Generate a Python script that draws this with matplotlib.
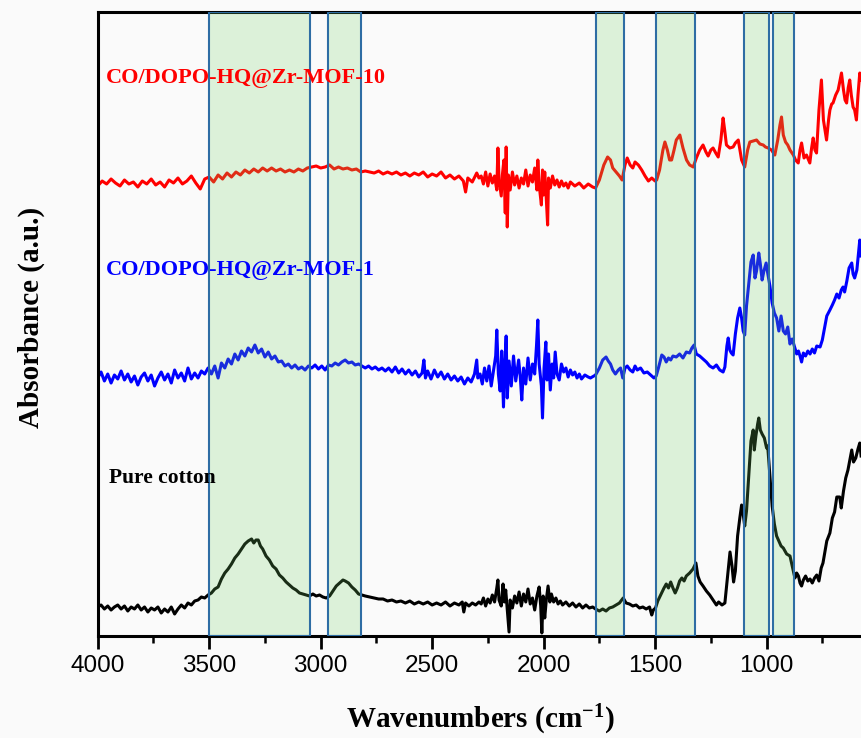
import matplotlib
matplotlib.use("Agg")
import matplotlib.pyplot as plt

# ---------------- data (wavenumber cm-1, absorbance a.u. offset) ----------------
red_pts = [
    (4000, 450), (3980, 455), (3960, 452), (3940, 457), (3920, 453), (3900, 450), (3880, 456), (3860, 452),
    (3840, 454), (3820, 449), (3800, 455), (3780, 452), (3760, 457), (3740, 451), (3720, 454), (3700, 449),
    (3680, 456), (3660, 453), (3640, 458), (3620, 452), (3600, 455), (3580, 460), (3560, 453), (3540, 447),
    (3520, 457), (3500, 459), (3480, 454), (3460, 461), (3440, 457), (3420, 463), (3400, 459), (3380, 464),
    (3360, 461), (3340, 466), (3320, 463), (3300, 467), (3280, 464), (3260, 468), (3240, 465), (3220, 468),
    (3200, 465), (3180, 467), (3160, 464), (3140, 466), (3120, 464), (3100, 467), (3080, 465), (3060, 468),
    (3040, 469), (3020, 470), (3000, 468), (2980, 469), (2960, 471), (2940, 467), (2920, 469), (2900, 467),
    (2880, 468), (2860, 466), (2840, 467), (2820, 464), (2800, 465), (2780, 464), (2760, 463), (2740, 465),
    (2720, 462), (2700, 464), (2680, 462), (2660, 464), (2640, 461), (2620, 463), (2600, 460), (2580, 463),
    (2560, 461), (2540, 464), (2520, 459), (2500, 462), (2480, 460), (2460, 464), (2440, 458), (2420, 461),
    (2400, 457), (2380, 460), (2360, 455), (2350, 444), (2340, 458), (2320, 454), (2300, 463), (2290, 458),
    (2280, 460), (2270, 452), (2260, 464), (2250, 450), (2240, 462), (2230, 453), (2220, 460), (2210, 446),
    (2205, 488), (2200, 456), (2190, 440), (2185, 461), (2178, 476), (2172, 423), (2168, 489), (2163, 409),
    (2158, 461), (2150, 446), (2140, 464), (2130, 451), (2120, 460), (2110, 448), (2100, 458), (2090, 452),
    (2080, 466), (2070, 450), (2060, 461), (2050, 454), (2040, 468), (2030, 446), (2026, 476), (2020, 451),
    (2010, 431), (2005, 466), (2000, 441), (1995, 464), (1990, 446), (1982, 411), (1978, 458), (1970, 448),
    (1960, 460), (1950, 451), (1940, 456), (1930, 449), (1920, 455), (1910, 450), (1900, 453), (1890, 448),
    (1880, 454), (1860, 450), (1840, 453), (1820, 448), (1800, 452), (1780, 449), (1767, 448),
    (1750, 456), (1730, 471), (1713, 479), (1700, 476), (1690, 468), (1675, 464), (1660, 460), (1648, 456),
    (1635, 471), (1625, 478), (1612, 471), (1600, 468), (1590, 474), (1575, 471), (1560, 466), (1545, 460),
    (1530, 455), (1515, 458), (1500, 455), (1493, 456), (1480, 466), (1465, 486), (1456, 494), (1445, 486),
    (1435, 476), (1426, 476), (1415, 486), (1405, 496), (1389, 501), (1375, 488), (1359, 476), (1345, 471),
    (1329, 469), (1315, 478), (1300, 486), (1285, 491), (1272, 484), (1262, 480), (1250, 486), (1240, 488),
    (1228, 483), (1217, 479), (1205, 496), (1195, 518), (1188, 506), (1180, 491), (1165, 488), (1150, 489),
    (1140, 493), (1127, 496), (1112, 476), (1098, 469), (1085, 486), (1075, 494), (1060, 495), (1045, 496),
    (1030, 492), (1015, 491), (1005, 489), (993, 488), (978, 486), (963, 481), (950, 496), (940, 511),
    (933, 519), (925, 501), (915, 494), (905, 491), (895, 486), (880, 481), (870, 476), (858, 473),
    (850, 486), (843, 493), (832, 478), (821, 481), (806, 473), (798, 488), (791, 498), (783, 486),
    (776, 483), (765, 526), (754, 556), (745, 516), (731, 496), (722, 516), (716, 526), (708, 532),
    (702, 533), (690, 541), (679, 546), (670, 556), (664, 563), (655, 546), (648, 536), (641, 533),
    (634, 548), (627, 556), (620, 541), (612, 529), (605, 526), (597, 516), (590, 541), (582, 563), (575, 556),
]

blue_pts = [
    (4000, 258), (3985, 264), (3970, 255), (3955, 262), (3940, 253), (3925, 261), (3910, 257), (3895, 265),
    (3880, 256), (3865, 262), (3850, 254), (3835, 260), (3820, 251), (3805, 259), (3790, 263), (3775, 255),
    (3760, 261), (3745, 250), (3730, 258), (3715, 264), (3700, 256), (3685, 262), (3670, 253), (3655, 266),
    (3640, 258), (3625, 263), (3610, 255), (3595, 268), (3580, 257), (3565, 263), (3550, 258), (3535, 265),
    (3520, 262), (3505, 268), (3490, 262), (3475, 270), (3460, 258), (3445, 273), (3430, 268), (3415, 277),
    (3400, 272), (3385, 282), (3370, 276), (3355, 285), (3340, 280), (3325, 288), (3310, 284), (3295, 291),
    (3280, 283), (3265, 287), (3250, 279), (3235, 284), (3220, 277), (3205, 280), (3190, 274), (3175, 275),
    (3160, 270), (3145, 272), (3130, 268), (3115, 271), (3100, 267), (3085, 269), (3070, 266), (3055, 270),
    (3040, 268), (3025, 271), (3010, 267), (2995, 270), (2980, 266), (2965, 271), (2950, 270), (2935, 273),
    (2920, 271), (2905, 274), (2890, 276), (2875, 273), (2860, 274), (2845, 271), (2830, 272), (2815, 270),
    (2800, 268), (2785, 270), (2770, 267), (2755, 269), (2740, 266), (2725, 268), (2710, 265), (2695, 268),
    (2680, 264), (2665, 269), (2650, 263), (2635, 267), (2620, 262), (2605, 266), (2590, 261), (2575, 265),
    (2560, 259), (2545, 263), (2537, 276), (2530, 258), (2520, 265), (2505, 257), (2490, 266), (2475, 259),
    (2460, 264), (2445, 257), (2430, 262), (2415, 256), (2400, 260), (2385, 255), (2370, 259), (2355, 252),
    (2340, 258), (2325, 254), (2310, 262), (2300, 276), (2295, 258), (2285, 262), (2275, 252), (2265, 268),
    (2255, 255), (2245, 270), (2235, 250), (2225, 265), (2215, 280), (2210, 306), (2203, 262), (2195, 245),
    (2188, 285), (2180, 229), (2175, 268), (2168, 300), (2163, 238), (2155, 275), (2145, 250), (2135, 280),
    (2125, 255), (2112, 276), (2105, 260), (2098, 236), (2090, 268), (2080, 252), (2070, 278), (2060, 256),
    (2050, 272), (2040, 262), (2032, 290), (2026, 316), (2020, 272), (2010, 250), (2005, 218), (1998, 268),
    (1990, 294), (1985, 256), (1978, 282), (1970, 246), (1962, 272), (1955, 258), (1948, 284), (1940, 262),
    (1930, 256), (1920, 272), (1910, 264), (1900, 268), (1890, 259), (1880, 266), (1870, 261), (1860, 264),
    (1850, 258), (1840, 262), (1830, 257), (1815, 261), (1800, 259), (1790, 258), (1767, 261), (1750, 268),
    (1735, 276), (1720, 279), (1710, 275), (1700, 272), (1690, 266), (1678, 262), (1665, 266), (1655, 268),
    (1645, 258), (1635, 268), (1625, 270), (1612, 266), (1600, 264), (1590, 270), (1580, 266), (1565, 268),
    (1550, 263), (1535, 264), (1520, 261), (1505, 258), (1495, 260), (1485, 268), (1470, 281), (1460, 279),
    (1450, 274), (1440, 278), (1430, 276), (1420, 280), (1405, 279), (1390, 282), (1375, 278), (1360, 284),
    (1345, 283), (1335, 288), (1325, 291), (1315, 282), (1300, 280), (1285, 277), (1270, 274), (1255, 270),
    (1240, 268), (1225, 271), (1210, 266), (1195, 264), (1187, 269), (1178, 290), (1172, 298), (1165, 286),
    (1158, 283), (1150, 281), (1140, 302), (1130, 318), (1120, 328), (1112, 318), (1105, 305), (1098, 301),
    (1090, 330), (1080, 352), (1070, 374), (1060, 381), (1052, 358), (1045, 365), (1035, 383), (1028, 372),
    (1020, 356), (1012, 365), (1002, 373), (995, 363), (985, 350), (975, 333), (965, 323), (955, 318),
    (945, 305), (935, 320), (925, 305), (915, 302), (905, 309), (895, 292), (885, 297), (873, 288),
    (865, 282), (857, 285), (850, 280), (843, 274), (835, 283), (825, 280), (815, 285), (805, 282),
    (795, 287), (785, 283), (775, 290), (760, 289), (750, 296), (740, 308), (730, 320), (716, 326),
    (705, 331), (695, 336), (685, 342), (675, 338), (665, 346), (657, 349), (650, 344), (640, 355),
    (630, 368), (618, 373), (612, 362), (605, 358), (595, 366), (588, 382), (582, 396), (576, 380),
]

black_pts = [
    (4000, 29), (3985, 31), (3970, 27), (3955, 30), (3940, 26), (3925, 29), (3910, 31), (3895, 27),
    (3880, 30), (3865, 25), (3850, 29), (3835, 27), (3820, 31), (3805, 26), (3790, 29), (3775, 24),
    (3760, 28), (3745, 26), (3730, 29), (3715, 23), (3700, 27), (3685, 24), (3670, 29), (3655, 22),
    (3640, 27), (3625, 31), (3610, 28), (3595, 33), (3580, 31), (3565, 35), (3550, 36), (3535, 39),
    (3520, 38), (3505, 41), (3490, 43), (3475, 47), (3460, 49), (3445, 57), (3430, 63), (3415, 67),
    (3400, 72), (3385, 78), (3370, 82), (3355, 87), (3340, 92), (3325, 95), (3310, 97), (3300, 93),
    (3290, 96), (3280, 96), (3270, 90), (3260, 87), (3245, 80), (3230, 76), (3215, 70), (3200, 67),
    (3185, 61), (3170, 58), (3155, 54), (3140, 51), (3125, 48), (3110, 46), (3095, 43), (3080, 42),
    (3065, 41), (3050, 40), (3035, 42), (3020, 40), (3005, 41), (2990, 39), (2975, 38), (2960, 40),
    (2945, 45), (2930, 50), (2915, 53), (2900, 56), (2890, 55), (2875, 53), (2860, 49), (2845, 46),
    (2830, 42), (2815, 41), (2800, 40), (2780, 39), (2760, 38), (2740, 37), (2720, 37), (2700, 35),
    (2680, 36), (2660, 34), (2640, 35), (2620, 33), (2600, 35), (2580, 32), (2560, 34), (2540, 32),
    (2520, 34), (2500, 31), (2480, 33), (2460, 31), (2440, 34), (2420, 30), (2400, 33), (2380, 31),
    (2365, 34), (2358, 24), (2350, 33), (2335, 30), (2320, 33), (2305, 31), (2290, 34), (2280, 32),
    (2270, 38), (2260, 30), (2250, 37), (2240, 33), (2230, 41), (2220, 34), (2210, 48), (2205, 56),
    (2200, 36), (2190, 30), (2182, 52), (2176, 34), (2170, 46), (2162, 24), (2155, 4), (2150, 36),
    (2140, 28), (2130, 40), (2120, 33), (2110, 44), (2100, 30), (2090, 42), (2080, 34), (2070, 47),
    (2060, 32), (2050, 38), (2040, 26), (2030, 40), (2020, 49), (2013, 30), (2008, 3), (2002, 40),
    (1995, 18), (1988, 36), (1980, 50), (1972, 34), (1965, 42), (1955, 34), (1945, 38), (1935, 32),
    (1925, 35), (1915, 31), (1900, 34), (1885, 30), (1870, 33), (1855, 29), (1840, 32), (1825, 28),
    (1810, 31), (1795, 28), (1780, 29), (1767, 27), (1750, 25), (1735, 27), (1720, 25), (1705, 28),
    (1690, 29), (1675, 31), (1660, 33), (1650, 36), (1643, 38), (1630, 33), (1615, 32), (1600, 30),
    (1585, 31), (1570, 28), (1555, 29), (1540, 27), (1525, 29), (1515, 21), (1508, 26), (1498, 28),
    (1488, 35), (1475, 41), (1460, 48), (1450, 52), (1440, 48), (1430, 54), (1420, 48), (1410, 43),
    (1400, 48), (1390, 55), (1380, 58), (1370, 55), (1360, 60), (1345, 63), (1330, 67), (1317, 73),
    (1308, 60), (1298, 54), (1285, 50), (1270, 45), (1255, 41), (1240, 36), (1225, 31), (1215, 34),
    (1200, 31), (1187, 33), (1175, 60), (1164, 84), (1155, 70), (1148, 54), (1140, 65), (1130, 100),
    (1120, 118), (1112, 131), (1105, 122), (1098, 110), (1090, 125), (1080, 160), (1070, 195), (1060, 206),
    (1055, 186), (1048, 200), (1040, 212), (1035, 218), (1028, 206), (1020, 202), (1010, 198), (1000, 188),
    (995, 190), (985, 160), (975, 130), (965, 112), (955, 100), (945, 95), (935, 90), (925, 88),
    (910, 82), (895, 80), (885, 70), (873, 58), (865, 63), (857, 60), (850, 53), (843, 50),
    (835, 56), (825, 60), (815, 55), (805, 57), (795, 53), (785, 58), (775, 61), (765, 55),
    (755, 68), (747, 73), (738, 85), (730, 95), (716, 103), (705, 118), (695, 124), (685, 139),
    (672, 139), (665, 128), (655, 145), (645, 158), (635, 166), (625, 178), (618, 186), (610, 174),
    (600, 178), (590, 187), (582, 193), (576, 180),
]

band_starts = [3500, 2965, 1767, 1497, 1103, 971]
band_ends = [3050, 2820, 1639, 1322, 990, 875]

labels = ["CO/DOPO-HQ@Zr-MOF-10", "CO/DOPO-HQ@Zr-MOF-1", "Pure cotton"]
x_ticks = [4000, 3500, 3000, 2500, 2000, 1500, 1000]

# ---------------- figure ----------------
plt.rcParams.update({
    "mathtext.fontset": "custom",
    "mathtext.rm": "Liberation Serif:bold",
    "mathtext.bf": "Liberation Serif:bold",
    "mathtext.it": "Liberation Serif:bold:italic",
})

W, H = 862, 738
fig = plt.figure(figsize=(W / 100, H / 100), dpi=100, facecolor="#fafafa")
ax = fig.add_axes([97.7 / W, 1 - 636 / H, 1 - 97.7 / W, 624 / H], facecolor="#fafafa")

for pts, col in [(black_pts, "black"), (blue_pts, "#0000ff"), (red_pts, "#ff0000")]:
    wn, ab = zip(*pts)
    ax.plot(wn, ab, color=col, lw=2.2, zorder=2, solid_joinstyle="round")

for s, e in zip(band_starts, band_ends):
    ax.axvspan(e, s, facecolor=(0.45, 0.82, 0.40, 0.22), edgecolor="#2e6da4",
               lw=1.5, zorder=3)

ax.set_xlim(4000, 572)
ax.set_ylim(0, 624)

ax.text(3963, 553, labels[0], color="#ff0000", fontsize=16, fontweight="bold",
        family="Liberation Serif", va="baseline", ha="left", zorder=5)
ax.text(3963, 361, labels[1], color="#0000ff", fontsize=16, fontweight="bold",
        family="Liberation Serif", va="baseline", ha="left", zorder=5)
ax.text(3949, 153, labels[2], color="black", fontsize=15.5, fontweight="bold",
        family="Liberation Serif", va="baseline", ha="left", zorder=5)

ax.set_xticks(x_ticks)
ax.set_xticklabels([str(t) for t in x_ticks], fontsize=17.5, family="Liberation Sans")
ax.set_xticks([3750, 3250, 2750, 2250, 1750, 1250, 750], minor=True)
ax.tick_params(axis="x", which="major", direction="out", length=9, width=2, pad=5)
ax.tick_params(axis="x", which="minor", direction="out", length=5, width=1.8)
ax.set_yticks([])

for sp in ["left", "bottom", "top"]:
    ax.spines[sp].set_linewidth(2.2)
ax.spines["right"].set_visible(False)

ax.set_xlabel("Wavenumbers (cm$^{\\mathbf{-1}}$)", fontsize=21, fontweight="bold",
              family="Liberation Serif")
ax.set_ylabel("Absorbance (a.u.)", fontsize=21, fontweight="bold", family="Liberation Serif")
ax.xaxis.set_label_coords(0.5, -0.107)
ax.yaxis.set_label_coords(-0.069, 0.51)

fig.savefig("out.png", dpi=100, facecolor=fig.get_facecolor())
